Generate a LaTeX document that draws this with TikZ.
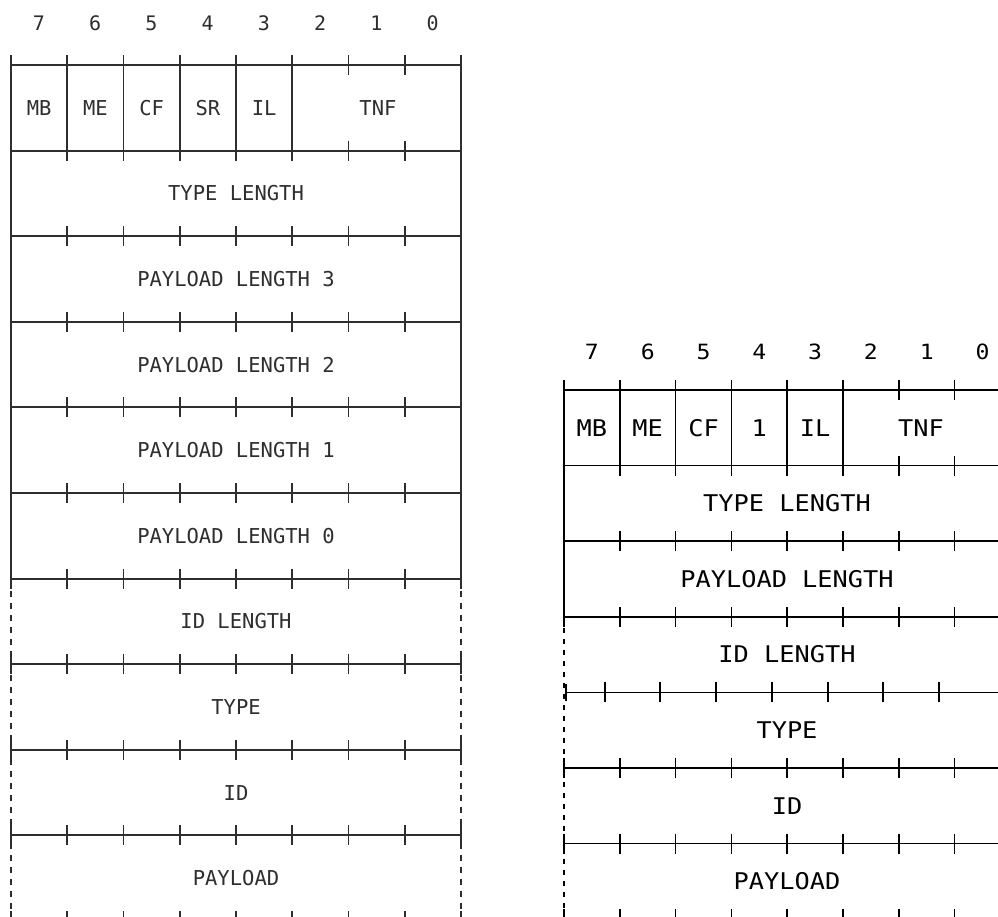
\documentclass[tikz,border=0pt]{standalone}
\usepackage{fontspec}
\newfontfamily\leftfont{DejaVu Sans Mono}
\newfontfamily\rightfont[FakeStretch=1.1]{DejaVu Sans Mono}
\definecolor{lgray}{HTML}{2E2E2E}
\begin{document}
\begin{tikzpicture}[x=1pt,y=-1pt,
  lline/.style={draw=lgray,line width=1.9pt},
  rline/.style={draw=black,line width=1.6pt},
  ldash/.style={lline,line width=1.3pt,dash pattern=on 6pt off 6pt},
  rdash/.style={rline,line width=1.2pt,dash pattern=on 5pt off 6pt},
  ltext/.style={text=lgray,font=\leftfont\fontsize{20.5}{24}\selectfont,inner sep=0pt},
  ldigit/.style={text=lgray,font=\leftfont\fontsize{20}{24}\selectfont,inner sep=0pt},
  rtext/.style={text=black,font=\rightfont\fontsize{23}{27}\selectfont,inner sep=0pt},
  rdigit/.style={text=black,font=\rightfont\fontsize{21}{25}\selectfont,inner sep=0pt}]
\useasboundingbox (0,0) rectangle (998,916);
\clip (0,0) rectangle (998,916);
\fill[white] (0,0) rectangle (998,916);

% ---------------- left diagram ----------------
\foreach \k in {0,...,10}{
  \pgfmathsetmacro{\yy}{65+85.6*\k}
  \draw[lline] (11,\yy) -- (461,\yy);
  \foreach \i in {0,...,8}{
    \draw[lline] ({11+56.25*\i},{\yy-10}) -- ({11+56.25*\i},{\yy+10});
  }
}
% borders
\draw[lline] (11,55) -- (11,578.6);
\draw[lline] (461,55) -- (461,578.6);
\draw[ldash] (11,578.6) -- (11,921);
\draw[ldash] (461,578.6) -- (461,921);
% header dividers
\foreach \i in {1,...,5}{
  \draw[lline] ({11+56.25*\i},65) -- ({11+56.25*\i},150.6);
}
% bit numbers
\foreach \b [count=\c from 0] in {7,6,5,4,3,2,1,0}{
  \node[ldigit] (lb\b) at ({39+56.25*\c},23) {\b};
}
% header fields
\node[ltext] (lmb) at (39.1,107.8) {MB};
\node[ltext] (lme) at (95.4,107.8) {ME};
\node[ltext] (lcf) at (151.6,107.8) {CF};
\node[ltext] (lsr) at (207.9,107.8) {SR};
\node[ltext] (lil) at (264.1,107.8) {IL};
\node[ltext] (ltnf) at (378,107.8) {TNF};
\node[ltext] (ltl) at (236,193.4) {TYPE LENGTH};
\node[ltext] (lpl3) at (236,279) {PAYLOAD LENGTH 3};
\node[ltext] (lpl2) at (236,364.6) {PAYLOAD LENGTH 2};
\node[ltext] (lpl1) at (236,450.2) {PAYLOAD LENGTH 1};
\node[ltext] (lpl0) at (236,535.8) {PAYLOAD LENGTH 0};
\node[ltext] (lidl) at (236,621.4) {ID LENGTH};
\node[ltext] (ltype) at (236,707) {TYPE};
\node[ltext] (lid) at (236,792.6) {ID};
\node[ltext] (lpay) at (236,878.2) {PAYLOAD};

% ---------------- right diagram ----------------
\foreach \k in {0,1,2,3,5,6,7}{
  \pgfmathsetmacro{\yy}{390+75.6*\k}
  \draw[rline] (564,\yy) -- (1012,\yy);
  \foreach \i in {0,...,8}{
    \draw[rline] ({564+55.8*\i},{\yy-10}) -- ({564+55.8*\i},{\yy+10});
  }
}
% ID LENGTH bottom line (ticks shifted)
\draw[rline] (566,692.4) -- (1012,692.4);
\draw[rline] (566,684) -- (566,701);
\foreach \xx in {605,660,716,772,828,883,939}{
  \draw[rline] (\xx,682.4) -- (\xx,702.4);
}
% borders
\draw[rline] (564,380) -- (564,616.8);
\draw[rline] (1010,380) -- (1010,616.8);
\draw[rdash] (564,616.8) -- (564,920);
% header dividers
\foreach \i in {1,...,5}{
  \draw[rline] ({564+55.8*\i},390) -- ({564+55.8*\i},465.6);
}
% bit numbers
\foreach \b [count=\c from 0] in {7,6,5,4,3,2,1,0}{
  \node[rdigit] (rb\b) at ({591.9+55.8*\c},352) {\b};
}
\node[rtext] (rmb) at (591.9,427.8) {MB};
\node[rtext] (rme) at (647.7,427.8) {ME};
\node[rtext] (rcf) at (703.5,427.8) {CF};
\node[rtext] (rsr) at (759.3,427.8) {1};
\node[rtext] (ril) at (815.1,427.8) {IL};
\node[rtext] (rtnf) at (921,427.8) {TNF};
\node[rtext] (rtl) at (787,503.4) {TYPE LENGTH};
\node[rtext] (rpl) at (787,579) {PAYLOAD LENGTH};
\node[rtext] (ridl) at (787,654.6) {ID LENGTH};
\node[rtext] (rtype) at (787,730.2) {TYPE};
\node[rtext] (rid) at (787,805.8) {ID};
\node[rtext] (rpay) at (787,881.4) {PAYLOAD};
\end{tikzpicture}
\end{document}
